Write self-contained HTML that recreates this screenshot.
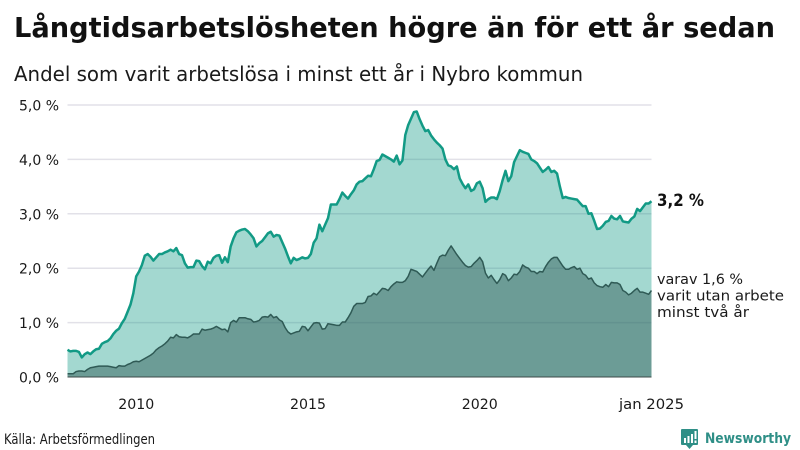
<!DOCTYPE html>
<html lang="sv">
<head>
<meta charset="utf-8">
<title>Långtidsarbetslösheten högre än för ett år sedan</title>
<style>
html,body{margin:0;padding:0;background:#fff;width:800px;height:450px;overflow:hidden}
svg{display:block;font-family:"DejaVu Sans","Liberation Sans",sans-serif;fill:#1a1a1a}
</style>
</head>
<body>
<svg id="chart" width="800" height="450" viewBox="0 0 800 450" xmlns="http://www.w3.org/2000/svg">
  <rect width="800" height="450" fill="#fff"/>
  <text x="14" y="37" font-size="28" font-weight="700" fill="#111" textLength="761" lengthAdjust="spacingAndGlyphs">Långtidsarbetslösheten högre än för ett år sedan</text>
  <text x="14" y="81" font-size="20" textLength="569" lengthAdjust="spacingAndGlyphs">Andel som varit arbetslösa i minst ett år i Nybro kommun</text>
  <g id="grid"></g>
  <g id="ylabels"></g>
  <g id="xlabels"></g>
  <path id="areaTotal" fill="#129a85" fill-opacity="0.39"/>
  <path id="areaLong" fill="#2f5a55" fill-opacity="0.47"/>
  <path id="lineTotal" fill="none" stroke="#129a85" stroke-width="2.5" stroke-linejoin="round"/>
  <path id="lineLong" fill="none" stroke="#2f5a55" stroke-width="1.5" stroke-linejoin="round"/>
  <line id="baseline" stroke="#3d4a48" stroke-width="1"/>
  <text x="657" y="206" font-size="17" font-weight="700" fill="#111" textLength="47" lengthAdjust="spacingAndGlyphs">3,2 %</text>
  <text x="657" y="284" font-size="14.5" textLength="86" lengthAdjust="spacingAndGlyphs">varav 1,6 %</text>
  <text x="657" y="300.5" font-size="14.5" textLength="127" lengthAdjust="spacingAndGlyphs">varit utan arbete</text>
  <text x="657" y="317" font-size="14.5" textLength="92" lengthAdjust="spacingAndGlyphs">minst två år</text>
  <text x="4" y="444" font-size="14" textLength="151" lengthAdjust="spacingAndGlyphs">Källa: Arbetsförmedlingen</text>
  <g>
    <path d="M682 429h15a1 1 0 0 1 1 1v14a1 1 0 0 1-1 1h-4l-3.500 4-3.500-4h-4a1 1 0 0 1-1-1v-14a1 1 0 0 1 1-1z" fill="#2f8f87"/>
    <path d="M684 438h2v5h-2zM687.500 436h2v7h-2zM691 434h2v9h-2zM694.500 431h2v8h-2zM694.500 440.500h2v2.500h-2z" fill="#fff"/>
    <text x="705" y="443" font-size="14.500" font-weight="700" fill="#2f8f87" textLength="86" lengthAdjust="spacingAndGlyphs">Newsworthy</text>
  </g>
</svg>
<script>
var totalShare = [
0.50,0.47,0.48,0.48,0.46,0.36,0.42,0.45,0.42,0.47,0.51,0.52,
0.61,0.64,0.66,0.71,0.79,0.85,0.89,0.99,1.07,1.20,1.33,1.54,
1.85,1.94,2.06,2.23,2.26,2.21,2.14,2.20,2.26,2.26,2.29,2.31,
2.34,2.31,2.37,2.26,2.24,2.09,2.01,2.02,2.02,2.14,2.13,2.04,
1.98,2.12,2.09,2.19,2.23,2.24,2.10,2.20,2.11,2.40,2.55,2.66,
2.69,2.71,2.72,2.68,2.62,2.55,2.40,2.46,2.50,2.57,2.64,2.67,
2.58,2.61,2.60,2.48,2.36,2.22,2.09,2.19,2.15,2.17,2.20,2.18,
2.19,2.26,2.47,2.55,2.80,2.68,2.80,2.92,3.17,3.17,3.17,3.27,
3.39,3.33,3.28,3.36,3.43,3.54,3.59,3.60,3.65,3.70,3.69,3.82,
3.97,3.99,4.09,4.06,4.03,4.00,3.96,4.07,3.91,3.98,4.45,4.63,
4.75,4.87,4.88,4.74,4.62,4.52,4.54,4.44,4.37,4.31,4.26,4.20,
4.00,3.89,3.87,3.82,3.87,3.65,3.55,3.47,3.54,3.42,3.45,3.56,
3.59,3.47,3.22,3.27,3.30,3.30,3.27,3.42,3.62,3.79,3.60,3.69,
3.95,4.06,4.17,4.14,4.12,4.10,4.00,3.97,3.93,3.85,3.77,3.81,
3.86,3.77,3.79,3.74,3.50,3.29,3.31,3.29,3.28,3.27,3.26,3.20,
3.14,3.14,3.00,3.01,2.87,2.72,2.73,2.78,2.85,2.87,2.96,2.91,
2.90,2.96,2.86,2.85,2.84,2.91,2.95,3.09,3.05,3.12,3.19,3.19,3.23];

var twoYearShare = [
0.06,0.06,0.06,0.10,0.11,0.11,0.10,0.14,0.17,0.18,0.19,0.20,
0.20,0.20,0.20,0.19,0.18,0.17,0.21,0.20,0.20,0.23,0.25,0.28,
0.29,0.28,0.31,0.34,0.37,0.40,0.44,0.50,0.54,0.57,0.61,0.66,
0.73,0.72,0.78,0.74,0.73,0.73,0.72,0.75,0.79,0.79,0.79,0.88,
0.86,0.87,0.88,0.90,0.93,0.90,0.87,0.88,0.83,1.00,1.04,1.01,
1.09,1.09,1.09,1.07,1.06,1.01,1.02,1.04,1.10,1.11,1.10,1.15,
1.09,1.11,1.05,1.02,0.91,0.83,0.79,0.81,0.83,0.84,0.93,0.92,
0.85,0.92,0.99,1.00,0.99,0.88,0.89,0.98,0.97,0.96,0.95,0.95,
1.01,1.01,1.09,1.18,1.30,1.35,1.35,1.35,1.37,1.48,1.49,1.54,
1.51,1.57,1.63,1.62,1.59,1.66,1.71,1.75,1.74,1.74,1.77,1.85,
1.98,1.96,1.94,1.89,1.84,1.91,1.98,2.04,1.96,2.09,2.21,2.24,
2.23,2.33,2.41,2.33,2.25,2.18,2.11,2.05,2.02,2.03,2.09,2.14,
2.20,2.12,1.91,1.82,1.87,1.79,1.72,1.79,1.90,1.87,1.77,1.82,
1.89,1.88,1.94,2.06,2.02,2.00,1.94,1.94,1.90,1.94,1.93,2.03,
2.11,2.17,2.20,2.20,2.12,2.04,1.98,1.98,2.01,2.03,1.98,2.00,
1.90,1.87,1.80,1.82,1.73,1.68,1.66,1.65,1.70,1.66,1.74,1.73,
1.73,1.70,1.59,1.56,1.51,1.54,1.59,1.63,1.56,1.56,1.54,1.52,1.59];

var yTickValues = [0, 1, 2, 3, 4, 5];
var yTickLabels = ["0,0 %", "1,0 %", "2,0 %", "3,0 %", "4,0 %", "5,0 %"];
var xTickMonths = [24, 84, 144, 204];
var xTickLabels = ["2010", "2015", "2020", "jan 2025"];

var NS = "http://www.w3.org/2000/svg";
var plot = { left: 67.5, right: 651.5, top: 105, bottom: 377, yMax: 5, monthMax: 204 };

function xScale(month) {
  return plot.left + (plot.right - plot.left) * month / plot.monthMax;
}
function yScale(value) {
  return plot.bottom - (plot.bottom - plot.top) * value / plot.yMax;
}
function linePath(values) {
  return values.map(function (v, i) {
    return (i ? "L" : "M") + xScale(i).toFixed(2) + " " + yScale(v).toFixed(2);
  }).join("");
}
function areaPath(values) {
  return linePath(values) + "L" + xScale(values.length - 1).toFixed(2) + " " + plot.bottom + "L" + xScale(0).toFixed(2) + " " + plot.bottom + "Z";
}

document.getElementById("areaTotal").setAttribute("d", areaPath(totalShare));
document.getElementById("areaLong").setAttribute("d", areaPath(twoYearShare));
document.getElementById("lineTotal").setAttribute("d", linePath(totalShare));
document.getElementById("lineLong").setAttribute("d", linePath(twoYearShare));

var baseline = document.getElementById("baseline");
baseline.setAttribute("x1", plot.left);
baseline.setAttribute("x2", plot.right);
baseline.setAttribute("y1", plot.bottom);
baseline.setAttribute("y2", plot.bottom);

var gridGroup = document.getElementById("grid");
var yLabelGroup = document.getElementById("ylabels");
yTickValues.forEach(function (v, i) {
  if (v !== 0) {
    var gridLine = document.createElementNS(NS, "line");
    
    
    gridLine.setAttribute("x1", plot.left);
    gridLine.setAttribute("x2", plot.right);
    gridLine.setAttribute("y1", yScale(v));
    gridLine.setAttribute("y2", yScale(v));
    gridLine.setAttribute("stroke", "#e2e1e8");
    gridLine.setAttribute("stroke-width", "1.5");
    gridGroup.appendChild(gridLine);
  }
  var yLabel = document.createElementNS(NS, "text");
  
  
  yLabel.setAttribute("x", 59);
  yLabel.setAttribute("y", yScale(v) + 5.5);
  yLabel.setAttribute("text-anchor", "end");
  yLabel.setAttribute("font-size", "14.5");
  yLabel.setAttribute("textLength", "40");
  yLabel.setAttribute("lengthAdjust", "spacingAndGlyphs");
  yLabel.textContent = yTickLabels[i];
  yLabelGroup.appendChild(yLabel);
});

var xLabelGroup = document.getElementById("xlabels");
xTickMonths.forEach(function (m, i) {
  var xLabel = document.createElementNS(NS, "text");
  
  
  xLabel.setAttribute("x", xScale(m));
  xLabel.setAttribute("y", 409);
  xLabel.setAttribute("text-anchor", "middle");
  xLabel.setAttribute("font-size", "14.5");
  xLabel.setAttribute("textLength", xTickLabels[i].length > 4 ? "65" : "36");
  xLabel.setAttribute("lengthAdjust", "spacingAndGlyphs");
  xLabel.textContent = xTickLabels[i];
  xLabelGroup.appendChild(xLabel);
});
</script>
</body>
</html>
